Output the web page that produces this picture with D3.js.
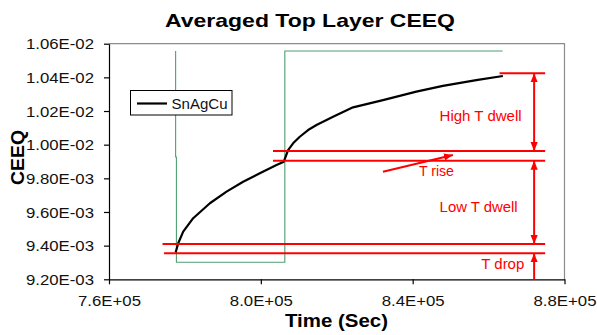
<!DOCTYPE html>
<html>
<head>
<meta charset="utf-8">
<script src="https://cdn.jsdelivr.net/npm/d3@7"></script>
<style>
  html, body { margin: 0; padding: 0; background: #fff; }
  svg { display: block; font-family: "Liberation Sans", Arial, sans-serif; }
</style>
</head>
<body>
<svg id="chart" width="597" height="335"></svg>
<script>
// Axis ticks
const xTicks = [760000, 800000, 840000, 880000];
const yTicks = [0.0092, 0.0094, 0.0096, 0.0098, 0.0100, 0.0102, 0.0104, 0.0106];

// Averaged CEEQ of the SnAgCu top layer over one cycle
const ceeqTime = [777550, 778240, 779550, 782180, 786580, 790970, 795340, 799740, 804130,
  806050, 807180, 808500, 810260, 812450, 814660, 819030, 824290, 832180, 840970, 847970,
  856760, 863760];
const ceeqValue = [0.009359, 0.009414, 0.009483, 0.009563, 0.009652, 0.009721, 0.009780,
  0.009830, 0.009879, 0.009899, 0.009968, 0.010008, 0.010047, 0.010087, 0.010117, 0.010166,
  0.010222, 0.010265, 0.010315, 0.010349, 0.010384, 0.010408];

// Temperature profile (step), shown on the same axes
const tempTime = [777550, 777550, 777760, 777760, 806320, 806320, 863700];
const tempValue = [0.010557, 0.009927, 0.009927, 0.009301, 0.009301, 0.010557, 0.010557];

// Reference levels marking the phases of the cycle
const levelValue = [0.010424, 0.009962, 0.009905, 0.009410, 0.0093545];
const levelStart = [862900, 803200, 803200, 774100, 774500];
const levelEnd = [874900, 874900, 874900, 874900, 874900];

// Phase arrows: [x1, y1, x2, y2, headAtStart, headAtEnd]
const arrowX1 = [872000, 872000, 872000, 832180];
const arrowY1 = [0.010424, 0.009905, 0.0092, 0.0098394];
const arrowX2 = [872000, 872000, 872000, 850600];
const arrowY2 = [0.009962, 0.009410, 0.0093545, 0.0099386];
const arrowStartHead = [true, true, false, false];
const arrowEndHead = [true, true, true, true];

// Phase labels
const phaseText = ["High T dwell", "Low T dwell", "T rise", "T drop"];
const phaseX = [847100, 847100, 841660, 858080];
const phaseY = [0.0101406, 0.0096017, 0.0098138, 0.0092594];
const phaseWidth = [82, 78, 35, 43];

const svg = d3.select("#chart");
const W = 597, H = 335;
svg.append("rect").attr("width", W).attr("height", H).attr("fill", "#fff");

const x = d3.scaleLinear().domain([760000, 880000]).range([109, 564.5]);
const y = d3.scaleLinear().domain([0.0092, 0.0106]).range([279.3, 43.7]);

// Plot frame (top and right edges)
svg.append("path")
  .attr("d", `M${x(760000)},${y(0.0106)}H${x(880000)}V${y(0.0092)}`)
  .attr("fill", "none").attr("stroke", "#8c8c8c").attr("stroke-width", 1.2);

const fmtExp = digits => v => {
  const [m, e] = v.toExponential(digits).split("e");
  const s = e[0] === "-" ? "-" : "+";
  return m + "E" + s + String(Math.abs(+e)).padStart(2, "0");
};

const yAxis = svg.append("g")
  .attr("transform", `translate(${x(760000)},0)`)
  .call(d3.axisLeft(y).tickValues(yTicks).tickFormat(fmtExp(2)).tickSize(5).tickSizeOuter(0).tickPadding(10));
yAxis.selectAll("text")
  .attr("font-size", 14).attr("fill", "#111").attr("font-family", "Liberation Sans, Arial, sans-serif")
  .attr("dy", "0.36em")
  .attr("textLength", 68).attr("lengthAdjust", "spacingAndGlyphs");

const xAxis = svg.append("g")
  .attr("transform", `translate(0,${y(0.0092)})`)
  .call(d3.axisBottom(x).tickValues(xTicks).tickFormat(fmtExp(1)).tickSize(5).tickSizeOuter(0).tickPadding(12));
xAxis.selectAll("text")
  .attr("font-size", 14).attr("fill", "#111").attr("font-family", "Liberation Sans, Arial, sans-serif")
  .attr("textLength", 63).attr("lengthAdjust", "spacingAndGlyphs");

[yAxis, xAxis].forEach(g => {
  g.select(".domain").attr("stroke", "#000").attr("stroke-width", 1.2);
  g.selectAll(".tick line").attr("stroke", "#000").attr("stroke-width", 1.2);
});

// Temperature step
const tempLine = d3.line().x((d, i) => x(tempTime[i])).y((d, i) => y(tempValue[i]));
svg.append("path")
  .attr("d", tempLine(tempTime))
  .attr("fill", "none").attr("stroke", "#4f9f70").attr("stroke-width", 1.1);

// CEEQ curve
const ceeqLine = d3.line().x((d, i) => x(ceeqTime[i])).y((d, i) => y(ceeqValue[i]));
svg.append("path")
  .attr("d", ceeqLine(ceeqTime))
  .attr("fill", "none").attr("stroke", "#000").attr("stroke-width", 2.2)
  .attr("stroke-linejoin", "round");

// Reference levels
svg.append("g").selectAll("line").data(levelValue).join("line")
  .attr("x1", (d, i) => x(levelStart[i])).attr("x2", (d, i) => x(levelEnd[i]))
  .attr("y1", d => y(d)).attr("y2", d => y(d))
  .attr("stroke", "#ff0000").attr("stroke-width", 2);

// Arrowhead marker
const defs = svg.append("defs");
defs.append("marker")
  .attr("id", "head").attr("markerUnits", "userSpaceOnUse")
  .attr("viewBox", "0 -4 10 8").attr("refX", 10).attr("refY", 0)
  .attr("markerWidth", 9).attr("markerHeight", 8).attr("orient", "auto-start-reverse")
  .append("path").attr("d", "M0,-4L10,0L0,4Z").attr("fill", "#ff0000");

svg.append("g").selectAll("line").data(arrowX1).join("line")
  .attr("x1", (d, i) => x(arrowX1[i])).attr("y1", (d, i) => y(arrowY1[i]))
  .attr("x2", (d, i) => x(arrowX2[i])).attr("y2", (d, i) => y(arrowY2[i]))
  .attr("stroke", "#ff0000").attr("stroke-width", 2)
  .attr("marker-start", (d, i) => arrowStartHead[i] ? "url(#head)" : null)
  .attr("marker-end", (d, i) => arrowEndHead[i] ? "url(#head)" : null);

// Phase labels
svg.append("g").selectAll("text").data(phaseText).join("text")
  .attr("x", (d, i) => x(phaseX[i])).attr("y", (d, i) => y(phaseY[i]))
  .attr("text-anchor", "start")
  .attr("font-size", 14).attr("fill", "#ff0000")
  .attr("textLength", (d, i) => phaseWidth[i]).attr("lengthAdjust", "spacingAndGlyphs")
  .text(d => d);

// Legend
const legend = svg.append("g");
legend.append("rect").attr("x", 130.5).attr("y", 90.5).attr("width", 101.5).attr("height", 24.5)
  .attr("fill", "#fff").attr("stroke", "#000").attr("stroke-width", 1);
legend.append("line").attr("x1", 137).attr("x2", 167).attr("y1", 103.5).attr("y2", 103.5)
  .attr("stroke", "#000").attr("stroke-width", 2.2);
legend.append("text").attr("x", 171.5).attr("y", 108.5)
  .attr("font-size", 14).attr("fill", "#111")
  .attr("textLength", 56).attr("lengthAdjust", "spacingAndGlyphs")
  .text("SnAgCu");

// Titles
svg.append("text").attr("x", 165).attr("y", 27)
  .attr("font-size", 18.5).attr("font-weight", "bold").attr("fill", "#000")
  .attr("textLength", 290).attr("lengthAdjust", "spacingAndGlyphs")
  .text("Averaged Top Layer CEEQ");

svg.append("text").attr("x", 285).attr("y", 327)
  .attr("font-size", 18).attr("font-weight", "bold").attr("fill", "#000")
  .attr("textLength", 103).attr("lengthAdjust", "spacingAndGlyphs")
  .text("Time (Sec)");

svg.append("text")
  .attr("transform", "translate(24,185) rotate(-90)")
  .attr("x", 0).attr("y", 0)
  .attr("font-size", 19).attr("font-weight", "bold").attr("fill", "#000")
  .attr("textLength", 55).attr("lengthAdjust", "spacingAndGlyphs")
  .text("CEEQ");
</script>
</body>
</html>
